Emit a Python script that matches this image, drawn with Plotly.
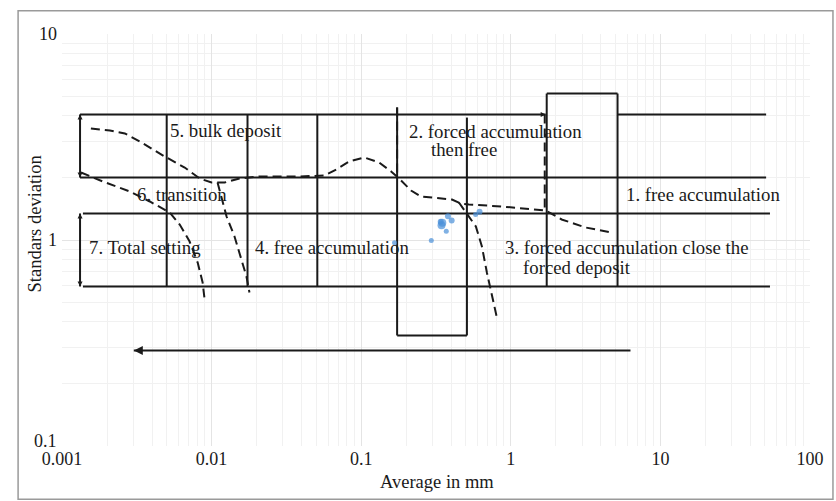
import numpy as np
import plotly.graph_objects as go

# ---------------- data ----------------
x_ticks = [0.001, 0.01, 0.1, 1, 10, 100]
x_tick_text = ["0.001", "0.01", "0.1", "1", "10", "100"]
y_ticks = [0.1, 1, 10]
y_tick_text = ["0.1", "1", "10"]

# horizontal boundary lines: (y, x_start, x_end)
h_lines = [
    (4.07, 0.00132, 1.71),
    (4.07, 5.17, 50.9),
    (5.14, 1.74, 5.17),
    (2.01, 0.00132, 50.9),
    (1.345, 0.00138, 54.0),
    (0.595, 0.00138, 54.0),
    (0.344, 0.174, 0.509),
]
# vertical boundary lines: (x, y_start, y_end)
v_lines = [
    (0.00132, 4.07, 2.01),
    (0.00132, 1.345, 0.595),
    (0.00501, 4.07, 0.595),
    (0.01738, 4.07, 0.595),
    (0.0509, 4.07, 0.595),
    (0.1738, 4.40, 0.344),
    (0.509, 3.93, 0.344),
    (1.738, 5.14, 0.595),
    (5.17, 5.14, 0.595),
]
# dashed vertical guides
dv_lines = [
    (0.1738, 4.40, 1.99),
    (1.686, 4.07, 1.39),
]

# dashed curves
curveA_x = [0.00156, 0.00209, 0.00263, 0.00331, 0.00486, 0.00661, 0.00832, 0.0100, 0.01221,
            0.01537, 0.0209, 0.0386, 0.0567, 0.0681, 0.0832, 0.1047, 0.1318, 0.1585, 0.1792,
            0.2154, 0.2512, 0.331, 0.4044, 0.464, 0.525, 0.871, 1.712, 2.188, 3.162, 4.714]
curveA_y = [3.477, 3.40, 3.289, 3.008, 2.543, 2.248, 1.989, 1.901, 1.901,
            1.989, 2.034, 2.034, 2.056, 2.199, 2.405, 2.515, 2.378, 2.150, 1.989,
            1.739, 1.626, 1.590, 1.573, 1.504, 1.487, 1.454, 1.391, 1.258, 1.150, 1.087]

curveB_x = [0.001339, 0.001877, 0.00284, 0.00386, 0.00525, 0.00612, 0.00713, 0.00807, 0.00871, 0.00898]
curveB_y = [2.127, 1.923, 1.720, 1.538, 1.360, 1.189, 0.983, 0.7775, 0.622, 0.5142]

curveC_x = [0.01096, 0.01148, 0.01259, 0.01423, 0.01537, 0.0171, 0.01791]
curveC_y = [1.901, 1.663, 1.300, 1.040, 0.870, 0.665, 0.556]

curveD_x = [0.450, 0.501, 0.584, 0.641, 0.692, 0.807]
curveD_y = [1.521, 1.360, 1.163, 0.930, 0.6955, 0.4205]

# bottom arrow (pointing left)
arrow_x = [6.31, 0.00302]
arrow_y = [0.291, 0.291]

# measured samples (blue points)
pts_x = [0.167, 0.2942, 0.340, 0.3483, 0.3443, 0.380, 0.4024, 0.3704, 0.5817, 0.6182]
pts_y = [0.969, 0.9945, 1.225, 1.212, 1.180, 1.305, 1.244, 1.103, 1.330, 1.370]
pts_size = [5, 5, 6, 8, 8, 6, 6, 5, 5, 6]

# region labels: (text, x_left, y_center)
labels = [
    ("5. bulk deposit", 0.00509, 3.40),
    ("2. forced accumulation", 0.2026, 3.363),
    ("then free", 0.284, 2.750),
    ("6. transition", 0.00307, 1.663),
    ("1. free accumulation", 5.75, 1.663),
    ("7. Total setting", 0.001468, 0.920),
    ("4. free accumulation", 0.01877, 0.920),
    ("3. forced accumulation close the", 0.884, 0.920),
    ("forced deposit", 1.166, 0.735),
]

x_title = "Average in mm"
y_title = "Standars deviation"

# ---------------- figure ----------------
FONT = "Liberation Serif, Times New Roman, serif"
INK = "#1a1a1a"
FS = 18.8
FT = 18.5

fig = go.Figure()

def seg_trace(segs, dash="solid", width=2.0):
    xs, ys = [], []
    for s in segs:
        xs += list(s[0]) + [None]
        ys += list(s[1]) + [None]
    return go.Scatter(x=xs, y=ys, mode="lines", hoverinfo="skip", showlegend=False,
                      line=dict(color=INK, width=width, dash=dash))

solid = [([x0, x1], [y, y]) for (y, x0, x1) in h_lines] + \
        [([x, x], [y0, y1]) for (x, y0, y1) in v_lines]
fig.add_trace(seg_trace(solid))

dashed = [([x, x], [y0, y1]) for (x, y0, y1) in dv_lines] + [
    (curveA_x, curveA_y), (curveB_x, curveB_y), (curveC_x, curveC_y), (curveD_x, curveD_y)]
fig.add_trace(seg_trace(dashed, dash="9px,5px", width=2.0))

# bottom arrow line + head
fig.add_trace(go.Scatter(x=arrow_x, y=arrow_y, mode="lines", hoverinfo="skip", showlegend=False,
                         line=dict(color=INK, width=2)))
fig.add_trace(go.Scatter(x=[arrow_x[1]], y=[arrow_y[1]], mode="markers", hoverinfo="skip",
                         showlegend=False,
                         marker=dict(symbol="arrow-left", size=9, color=INK)))

# small arrow heads on the left double arrows and top line
fig.add_trace(go.Scatter(
    x=[v_lines[0][0], v_lines[1][0]], y=[v_lines[0][1], v_lines[1][1]], mode="markers",
    hoverinfo="skip", showlegend=False, marker=dict(symbol="arrow-up", size=5, color=INK)))
fig.add_trace(go.Scatter(
    x=[v_lines[0][0], v_lines[1][0]], y=[v_lines[0][2], v_lines[1][2]], mode="markers",
    hoverinfo="skip", showlegend=False, marker=dict(symbol="arrow-down", size=5, color=INK)))
fig.add_trace(go.Scatter(
    x=[h_lines[0][2]], y=[h_lines[0][0]], mode="markers",
    hoverinfo="skip", showlegend=False, marker=dict(symbol="arrow-right", size=5, color=INK)))

# blue points
fig.add_trace(go.Scatter(x=pts_x, y=pts_y, mode="markers", showlegend=False,
                         marker=dict(color="#4a90d9", size=pts_size, line=dict(width=0))))

for txt, lx, ly in labels:
    fig.add_annotation(x=np.log10(lx), y=np.log10(ly), xref="x", yref="y", text=txt,
                       showarrow=False, xanchor="left", yanchor="middle",
                       font=dict(family=FONT, size=FS, color=INK))

# y tick labels (placed individually so that "0.1" sits above "0.001" as in the original)
y_shift = {0.1: 5, 1: 0, 10: 0}
for v, t in zip(y_ticks, y_tick_text):
    fig.add_annotation(x=0, y=np.log10(v), xref="paper", yref="y", text=t, showarrow=False,
                       xanchor="right", yanchor="middle", xshift=-3, yshift=y_shift[v],
                       font=dict(family=FONT, size=18, color=INK))

# axis titles
fig.add_annotation(x=0.5007, y=-0.088, xref="paper", yref="paper", text=x_title,
                   showarrow=False, xanchor="center", yanchor="middle",
                   font=dict(family=FONT, size=FT, color=INK))
fig.add_annotation(x=-0.036, y=0.538, xref="paper", yref="paper", text=y_title,
                   showarrow=False, xanchor="center", yanchor="middle", textangle=-90,
                   font=dict(family=FONT, size=FT, color=INK))

# outer frame
fig.add_shape(type="rect", xref="paper", yref="paper", x0=-0.0587, x1=1.0307, y0=-0.129, y1=1.0565,
              line=dict(color="#9a9a9a", width=1.5), layer="below")

def minor_vals(lo, hi):
    return [k * 10.0 ** d for d in range(lo, hi) for k in range(2, 10)]

fig.update_xaxes(type="log", range=[-3, 2], tickmode="array", tickvals=x_ticks, ticktext=x_tick_text,
                 showgrid=True, gridcolor="#e4e4e4", gridwidth=1, zeroline=False, showline=False,
                 ticks="", tickfont=dict(family=FONT, size=18, color=INK),
                 minor=dict(tickmode="array", tickvals=minor_vals(-3, 2), showgrid=True,
                            gridcolor="#f1f1f1", gridwidth=1, ticks=""))
fig.update_yaxes(type="log", range=[-1, 1], tickmode="array", tickvals=y_ticks, ticktext=y_tick_text,
                 showticklabels=False,
                 showgrid=True, gridcolor="#e4e4e4", gridwidth=1, zeroline=False, showline=False,
                 ticks="",
                 minor=dict(tickmode="array", tickvals=minor_vals(-1, 1), showgrid=True,
                            gridcolor="#f1f1f1", gridwidth=1, ticks=""))

fig.update_layout(width=836, height=501, margin=dict(l=62, r=24, t=34, b=55),
                  paper_bgcolor="white", plot_bgcolor="white", showlegend=False)

fig.write_html("out.html")
